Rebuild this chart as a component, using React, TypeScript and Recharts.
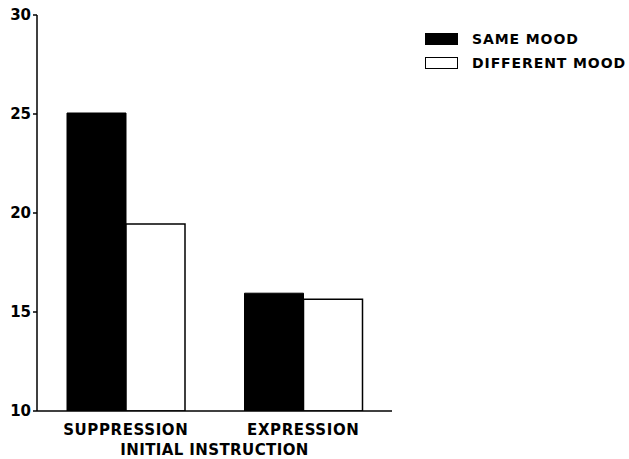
import React from 'react';
import { BarChart, Bar, XAxis, YAxis, Legend } from 'recharts';

const categories = ['SUPPRESSION', 'EXPRESSION'];
const sameMood = [25.05, 15.95];
const differentMood = [19.45, 15.65];
const yTicks = [10, 15, 20, 25, 30];
const seriesNames = ['SAME MOOD', 'DIFFERENT MOOD'];

const data = categories.map((c, i) => ({ name: c, same: sameMood[i], different: differentMood[i] }));

const FONT = '"DejaVu Sans", sans-serif';

const LegendContent = () => (
  <div style={{ fontFamily: FONT, fontWeight: 700, fontSize: 14, whiteSpace: 'nowrap' }}>
    {seriesNames.map((n, i) => (
      <div key={n} style={{ display: 'flex', alignItems: 'center', height: 24 }}>
        <div
          style={{
            width: 33,
            height: 12,
            flex: '0 0 auto',
            boxSizing: 'border-box',
            background: i === 0 ? '#000' : '#fff',
            border: '1.5px solid #000',
            marginRight: 14,
          }}
        />
        <span style={{ letterSpacing: 0.9, color: '#000' }}>{n}</span>
      </div>
    ))}
  </div>
);

export default function App() {
  return (
    <div style={{ position: 'absolute', left: 0, top: 0, width: 629, height: 459, background: '#fff' }}>
      <BarChart
        width={629}
        height={459}
        data={data}
        margin={{ top: 15, right: 33, bottom: 0, left: 0 }}
        barCategoryGap={30}
        barGap={0}
      >
        <XAxis
          dataKey="name"
          height={48}
          tickLine={false}
          tickSize={0}
          tickMargin={13}
          axisLine={{ stroke: '#000', strokeWidth: 1.5 }}
          tick={{ fill: '#000', fontFamily: FONT, fontWeight: 700, fontSize: 15, letterSpacing: 0.6 }}
          label={{
            value: 'INITIAL INSTRUCTION',
            position: 'insideBottom',
            offset: 4,
            fill: '#000',
            fontFamily: FONT,
            fontWeight: 700,
            fontSize: 15,
            letterSpacing: 0.4,
          }}
        />
        <YAxis
          width={37}
          domain={[10, 30]}
          ticks={yTicks}
          allowDataOverflow
          tickSize={4}
          tickMargin={2}
          axisLine={{ stroke: '#000', strokeWidth: 1.5 }}
          tickLine={{ stroke: '#000', strokeWidth: 1.5 }}
          tick={{ fill: '#000', fontFamily: FONT, fontWeight: 700, fontSize: 15 }}
        />
        <Legend
          layout="vertical"
          align="right"
          verticalAlign="top"
          width={204}
          content={<LegendContent />}
          wrapperStyle={{ left: 425, top: 27, right: 'auto' }}
        />
        <Bar dataKey="same" fill="#000" stroke="#000" strokeWidth={1} isAnimationActive={false} />
        <Bar dataKey="different" fill="#fff" stroke="#000" strokeWidth={1.5} isAnimationActive={false} />
      </BarChart>
    </div>
  );
}
